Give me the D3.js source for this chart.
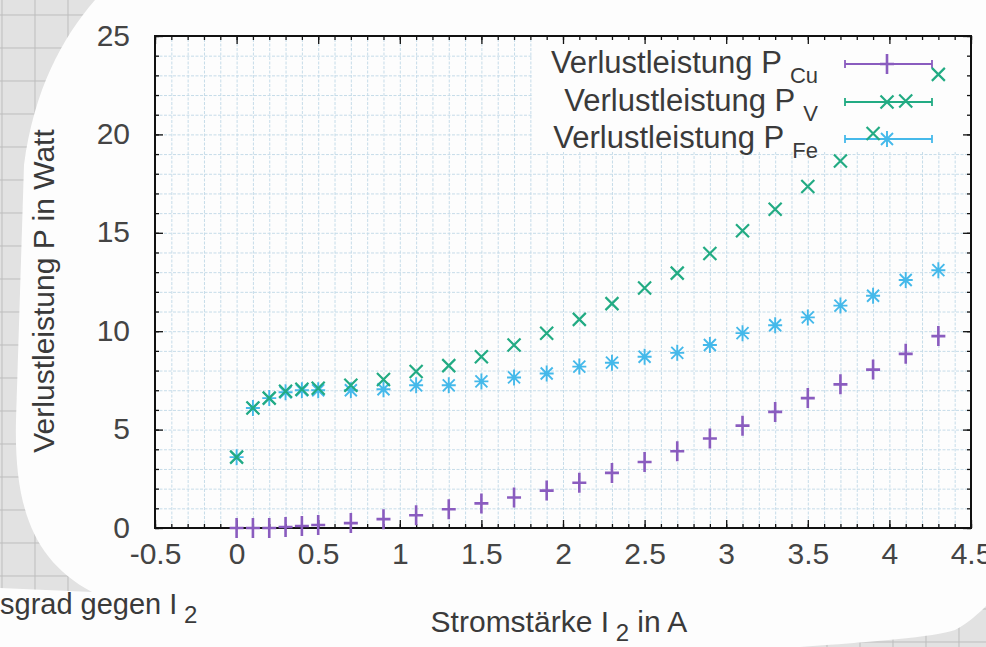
<html lang="de">
<head>
<meta charset="utf-8">
<title>Verlustleistung gegen Stromstaerke</title>
<script src="https://cdn.jsdelivr.net/npm/d3@7"></script>
<style>
  body { margin: 0; background: #ffffff; }
  text { font-family: "Liberation Sans", Arial, sans-serif; }
</style>
</head>
<body></body>
<script type="text/javascript">

//*******************************************************************//
// Data

var current = [0, 0.1, 0.2, 0.3, 0.4, 0.5, 0.7, 0.9, 1.1, 1.3, 1.5, 1.7, 1.9,
               2.1, 2.3, 2.5, 2.7, 2.9, 3.1, 3.3, 3.5, 3.7, 3.9, 4.1, 4.3];
var pCu = [0, 0, 0, 0.05, 0.1, 0.15, 0.25, 0.45, 0.65, 0.95, 1.25, 1.55, 1.9,
           2.3, 2.8, 3.35, 3.9, 4.55, 5.2, 5.9, 6.6, 7.3, 8.05, 8.85, 9.75];
var pV = [3.6, 6.1, 6.6, 6.95, 7.05, 7.1, 7.25, 7.55, 7.95, 8.25, 8.7, 9.3, 9.9,
          10.6, 11.4, 12.2, 12.95, 13.95, 15.1, 16.2, 17.35, 18.65, 20.05, 21.7, 23.05];
var pFe = [3.6, 6.1, 6.6, 6.9, 7.0, 7.0, 7.0, 7.05, 7.25, 7.25, 7.45, 7.65, 7.85,
           8.2, 8.4, 8.7, 8.9, 9.3, 9.9, 10.3, 10.7, 11.3, 11.8, 12.6, 13.1];

var xTicks = [-0.5, 0, 0.5, 1, 1.5, 2, 2.5, 3, 3.5, 4, 4.5];
var yTicks = [0, 5, 10, 15, 20, 25];
var seriesNames = ["Cu", "V", "Fe"];

//*******************************************************************//
// Canvas

var width = 986, height = 647;
var plotLeft = 155, plotRight = 971, plotTop = 36, plotBottom = 528;

var canvas = d3.select("body").append("svg")
    .attr("width", width)
    .attr("height", height);

// scanned paper: grey graph paper behind the printed sheet
canvas.append("rect").attr("width", width).attr("height", height).attr("fill", "#e2e2e2");
var paperGrid = canvas.append("g").attr("stroke", "#bdbdbd").attr("stroke-width", 1);
d3.range(2, width, 33).forEach(function(v){
    paperGrid.append("line").attr("x1", v).attr("x2", v).attr("y1", 0).attr("y2", height);
});
d3.range(15, height, 33).forEach(function(v){
    paperGrid.append("line").attr("x1", 0).attr("x2", width).attr("y1", v).attr("y2", v);
});
canvas.append("path")
    .attr("d", "M95,0 C62,38 34,90 24,165 L16,420 C14,505 32,560 92,592 L0,588 L0,647 L800,647 " +
               "C870,642 935,637 955,630 C970,622 980,612 986,606 L986,0 Z")
    .attr("fill", "#fdfdfd");

//*******************************************************************//
// Scales

var x = d3.scaleLinear().domain([-0.5, 4.5]).range([plotLeft, plotRight]);
var y = d3.scaleLinear().domain([0, 25]).range([plotBottom, plotTop]);

var xMinor = d3.range(-5, 46).map(function(d){ return d / 10; });
var yMinor = d3.range(0, 26);

// grid
var grid = canvas.append("g");
grid.append("g")
    .attr("transform", "translate(0," + plotBottom + ")")
    .call(d3.axisBottom(x).tickValues(xMinor).tickSize(-(plotBottom - plotTop)).tickFormat(""))
    .call(function(g){ g.select(".domain").remove(); });
grid.append("g")
    .attr("transform", "translate(" + plotLeft + ",0)")
    .call(d3.axisLeft(y).tickValues(yMinor).tickSize(-(plotRight - plotLeft)).tickFormat(""))
    .call(function(g){ g.select(".domain").remove(); });
grid.selectAll(".tick line")
    .attr("stroke", "#c6dce9")
    .attr("stroke-dasharray", "3,1.5");

// opaque key box
canvas.append("rect")
    .attr("x", 532).attr("y", plotTop + 1)
    .attr("width", plotRight - 532 - 2).attr("height", 115)
    .attr("fill", "#fdfdfd");

//*******************************************************************//
// Axes (gnuplot style: inward, mirrored ticks)

function styleAxis(g){
    g.select(".domain").remove();
    g.selectAll(".tick line").attr("stroke", "#111").attr("stroke-width", 1.3);
}

canvas.append("g").attr("transform", "translate(0," + plotBottom + ")")
    .call(d3.axisBottom(x).tickValues(xMinor).tickSize(-4).tickFormat("")).call(styleAxis);
canvas.append("g").attr("transform", "translate(0," + plotTop + ")")
    .call(d3.axisTop(x).tickValues(xMinor).tickSize(-4).tickFormat("")).call(styleAxis);
canvas.append("g").attr("transform", "translate(" + plotLeft + ",0)")
    .call(d3.axisLeft(y).tickValues(yMinor).tickSize(-4).tickFormat("")).call(styleAxis);
canvas.append("g").attr("transform", "translate(" + plotRight + ",0)")
    .call(d3.axisRight(y).tickValues(yMinor).tickSize(-4).tickFormat("")).call(styleAxis);

canvas.append("g").attr("transform", "translate(0," + plotTop + ")")
    .call(d3.axisTop(x).tickValues(xTicks).tickSize(-8).tickFormat("")).call(styleAxis);
canvas.append("g").attr("transform", "translate(" + plotRight + ",0)")
    .call(d3.axisRight(y).tickValues(yTicks).tickSize(-8).tickFormat("")).call(styleAxis);

var xAxis = canvas.append("g").attr("transform", "translate(0," + plotBottom + ")")
    .call(d3.axisBottom(x).tickValues(xTicks).tickSize(-8).tickPadding(25).tickFormat(String))
    .call(styleAxis);
xAxis.selectAll("text")
    .attr("dy", "0.35em")
    .style("font-size", "30px")
    .style("font-family", "'Liberation Sans', Arial, sans-serif")
    .attr("fill", "#444");

var yAxis = canvas.append("g").attr("transform", "translate(" + plotLeft + ",0)")
    .call(d3.axisLeft(y).tickValues(yTicks).tickSize(-8).tickPadding(25).tickFormat(String))
    .call(styleAxis);
yAxis.selectAll("text")
    .attr("dy", "0.3em")
    .style("font-size", "30px")
    .style("font-family", "'Liberation Sans', Arial, sans-serif")
    .attr("fill", "#444");

canvas.append("rect")
    .attr("x", plotLeft).attr("y", plotTop)
    .attr("width", plotRight - plotLeft).attr("height", plotBottom - plotTop)
    .attr("fill", "none").attr("stroke", "#111").attr("stroke-width", 2);

//*******************************************************************//
// Markers

var colors = ["#8a5cbf", "#22ab83", "#45b9ea"];

function plusPath(cx, cy, w, h){
    return "M" + (cx - w) + "," + cy + "H" + (cx + w) + "M" + cx + "," + (cy - h) + "V" + (cy + h);
}
function crossPath(cx, cy, r){
    return "M" + (cx - r) + "," + (cy - r) + "L" + (cx + r) + "," + (cy + r) +
           "M" + (cx - r) + "," + (cy + r) + "L" + (cx + r) + "," + (cy - r);
}
var markers = [
    function(cx, cy){ return plusPath(cx, cy, 7, 10); },
    function(cx, cy){ return crossPath(cx, cy, 6.5); },
    function(cx, cy){ return plusPath(cx, cy, 7, 8) + crossPath(cx, cy, 6); }
];
var widths = [2.6, 2.2, 1.9];

//*******************************************************************//
// Key

var keyRows = [64, 102, 139];
var key = canvas.append("g");
seriesNames.forEach(function(name, i){
    var t = key.append("text")
        .attr("x", 818).attr("y", keyRows[i] + 9)
        .attr("text-anchor", "end")
        .style("font-size", "31px")
        .attr("fill", "#3a3a3a");
    t.append("tspan").text("Verlustleistung P ");
    t.append("tspan").attr("dy", 10).style("font-size", "22px").text(name);

    var ks = key.append("g").attr("stroke", colors[i]).attr("stroke-width", 1.8).attr("fill", "none");
    ks.append("path").attr("d", "M845," + keyRows[i] + "H932" +
        "M845," + (keyRows[i] - 4) + "V" + (keyRows[i] + 4) +
        "M932," + (keyRows[i] - 4) + "V" + (keyRows[i] + 4));
    ks.append("path").attr("d", markers[i](887, keyRows[i])).attr("stroke-width", widths[i]);
});

//*******************************************************************//
// Points

var series = [pCu, pV, pFe];
var plot = canvas.append("g");
[2, 1, 0].forEach(function(i){
    plot.append("g")
        .selectAll("path")
        .data(current)
        .enter()
        .append("path")
        .attr("d", function(d, j){ return markers[i](x(d), y(series[i][j])); })
        .attr("fill", "none")
        .attr("stroke", colors[i])
        .attr("stroke-width", widths[i]);
});

//*******************************************************************//
// Labels

canvas.append("text")
    .attr("transform", "translate(54,291) rotate(-90)")
    .attr("text-anchor", "middle")
    .style("font-size", "30px")
    .attr("fill", "#3a3a3a")
    .text("Verlustleistung P in Watt");

var xl = canvas.append("text")
    .attr("x", 559).attr("y", 632)
    .attr("text-anchor", "middle")
    .style("font-size", "30px")
    .attr("fill", "#3a3a3a");
xl.append("tspan").text("Stromstärke I");
xl.append("tspan").attr("dy", 9).style("font-size", "24px").text(" 2");
xl.append("tspan").attr("dy", -9).text("  in A");

var sl = canvas.append("text")
    .attr("x", 0).attr("y", 614)
    .style("font-size", "29px")
    .attr("fill", "#3a3a3a");
sl.append("tspan").text("sgrad gegen I");
sl.append("tspan").attr("dy", 9).style("font-size", "24px").text(" 2");

</script>
</html>
